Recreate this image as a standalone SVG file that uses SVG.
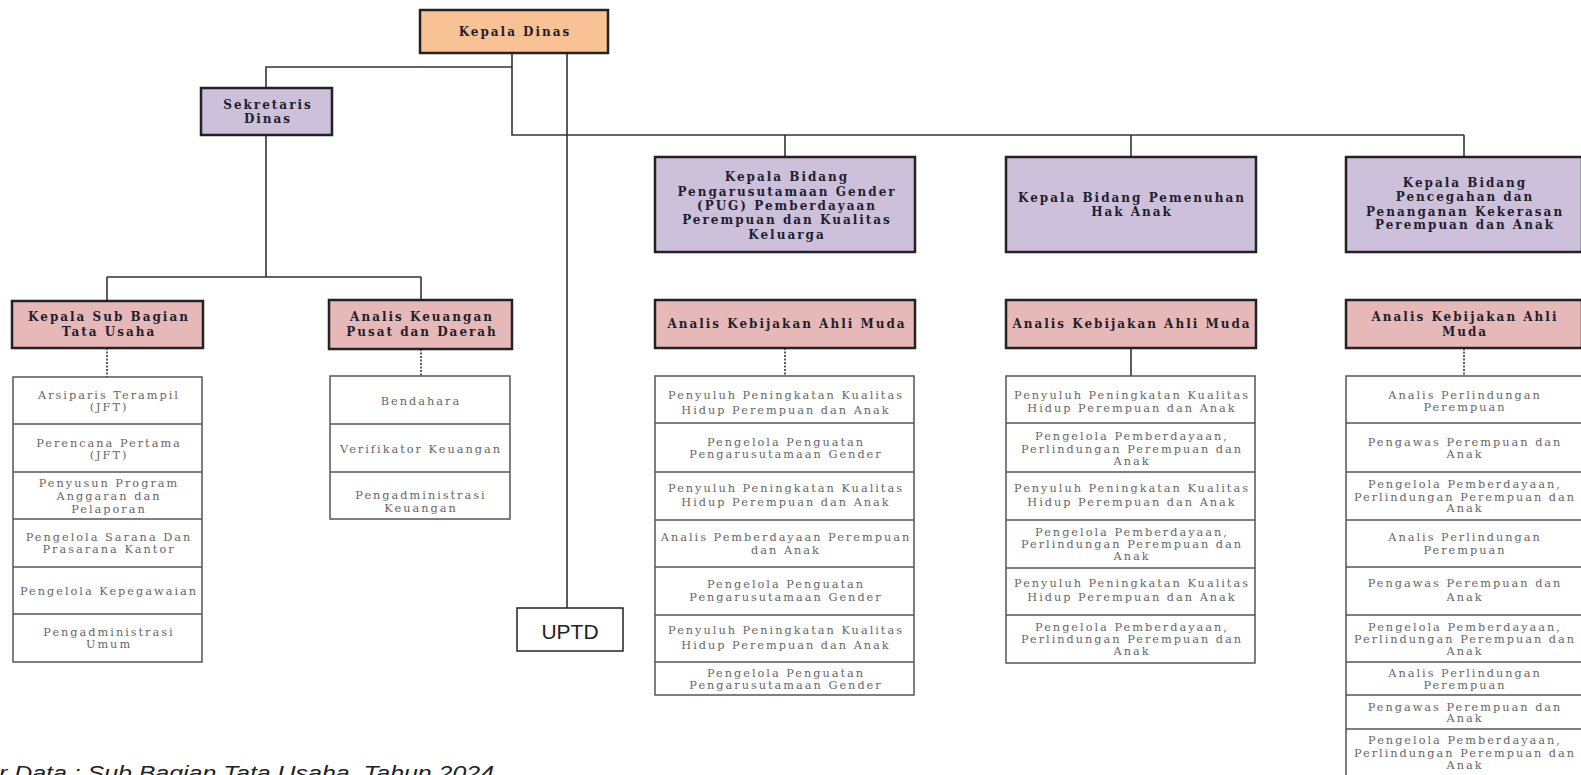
<svg xmlns="http://www.w3.org/2000/svg" width="1581" height="775" viewBox="0 0 1581 775">
<style>
.hd{stroke:#222;stroke-width:2.5}
.kd{fill:#f9c294}
.lv{fill:#ccc0da}
.pk{fill:#e6b9b8}
.bt{font-family:"DejaVu Serif",serif;font-weight:bold;font-size:12px;letter-spacing:2px;fill:#1f1f2e;text-anchor:middle}
.lt{font-family:"DejaVu Serif",serif;font-size:11.3px;letter-spacing:2px;fill:#666;text-anchor:middle}
.lb{fill:#fff;stroke:#555;stroke-width:1.5}
.sp{stroke:#555;stroke-width:1.5}
.cn{stroke:#333;stroke-width:1.6;fill:none}
.dt{stroke-dasharray:2 1.5}
.ub{fill:#fff;stroke:#222;stroke-width:1.5}
.ut{font-family:"Liberation Sans",Arial,sans-serif;font-size:21px;fill:#222;text-anchor:middle}
.src{font-family:"Liberation Sans",Arial,sans-serif;font-style:italic;font-size:20px;fill:#222}
</style>
<rect width="1581" height="775" fill="#fff"/>

<g id="connectors">
<path class="cn" d="M512 53V135H1464M785 135V157M1131 135V157M1464 135V157"/>
<path class="cn" d="M512 67H266V88"/>
<path class="cn" d="M567 53V608"/>
<path class="cn" d="M266 135V277M107 277H421M107 277V301M421 277V300"/>
<path class="cn dt" d="M107 348V377M421 349V376M785 348V376M1464 348V376"/>
<path class="cn" d="M1131 348V376"/>
</g>

<g id="kepala-dinas">
<rect class="hd kd" x="420" y="10" width="188" height="43"/>
<text class="bt" x="515" y="36">Kepala Dinas</text>
</g>

<g id="sekretaris-dinas">
<rect class="hd lv" x="201" y="88" width="131" height="47"/>
<text class="bt" x="268" y="109">Sekretaris</text>
<text class="bt" x="268" y="123">Dinas</text>
</g>

<g id="uptd">
<rect class="ub" x="517" y="608" width="106" height="43"/>
<text class="ut" x="570" y="639">UPTD</text>
</g>

<g id="kasubag-tu">
<rect class="hd pk" x="12" y="301" width="191" height="47"/>
<text class="bt" x="109" y="321">Kepala Sub Bagian</text>
<text class="bt" x="109" y="336">Tata Usaha</text>
</g>

<g id="list-tu">
<rect class="lb" x="13" y="377" width="189" height="285"/>
<path class="sp" d="M13 424H202M13 472H202M13 519H202M13 567H202M13 614H202"/>
<text class="lt" x="109" y="399">Arsiparis Terampil</text>
<text class="lt" x="109" y="411">(JFT)</text>
<text class="lt" x="109" y="447">Perencana Pertama</text>
<text class="lt" x="109" y="459">(JFT)</text>
<text class="lt" x="109" y="487">Penyusun Program</text>
<text class="lt" x="109" y="500">Anggaran dan</text>
<text class="lt" x="109" y="513">Pelaporan</text>
<text class="lt" x="109" y="541">Pengelola Sarana Dan</text>
<text class="lt" x="109" y="553">Prasarana Kantor</text>
<text class="lt" x="109" y="595">Pengelola Kepegawaian</text>
<text class="lt" x="109" y="636">Pengadministrasi</text>
<text class="lt" x="109" y="648">Umum</text>
</g>

<g id="analis-keuangan">
<rect class="hd pk" x="329" y="300" width="183" height="49"/>
<text class="bt" x="422" y="321">Analis Keuangan</text>
<text class="bt" x="422" y="336">Pusat dan Daerah</text>
</g>

<g id="list-keuangan">
<rect class="lb" x="330" y="376" width="180" height="143"/>
<path class="sp" d="M330 424H510M330 472H510"/>
<text class="lt" x="421" y="405">Bendahara</text>
<text class="lt" x="421" y="453">Verifikator Keuangan</text>
<text class="lt" x="421" y="499">Pengadministrasi</text>
<text class="lt" x="421" y="512">Keuangan</text>
</g>

<g id="kabid-pug">
<rect class="hd lv" x="655" y="157" width="260" height="95"/>
<text class="bt" x="787" y="181">Kepala Bidang</text>
<text class="bt" x="787" y="196">Pengarusutamaan Gender</text>
<text class="bt" x="787" y="210">(PUG) Pemberdayaan</text>
<text class="bt" x="787" y="224">Perempuan dan Kualitas</text>
<text class="bt" x="787" y="239">Keluarga</text>
</g>

<g id="analis-pug">
<rect class="hd pk" x="655" y="300" width="260" height="48"/>
<text class="bt" x="787" y="328">Analis Kebijakan Ahli Muda</text>
</g>

<g id="list-pug">
<rect class="lb" x="655" y="376" width="259" height="319"/>
<path class="sp" d="M655 423H914M655 472H914M655 520H914M655 567H914M655 615H914M655 662H914"/>
<text class="lt" x="786" y="399">Penyuluh Peningkatan Kualitas</text>
<text class="lt" x="786" y="414">Hidup Perempuan dan Anak</text>
<text class="lt" x="786" y="446">Pengelola Penguatan</text>
<text class="lt" x="786" y="458">Pengarusutamaan Gender</text>
<text class="lt" x="786" y="492">Penyuluh Peningkatan Kualitas</text>
<text class="lt" x="786" y="506">Hidup Perempuan dan Anak</text>
<text class="lt" x="786" y="541">Analis Pemberdayaan Perempuan</text>
<text class="lt" x="786" y="554">dan Anak</text>
<text class="lt" x="786" y="588">Pengelola Penguatan</text>
<text class="lt" x="786" y="601">Pengarusutamaan Gender</text>
<text class="lt" x="786" y="634">Penyuluh Peningkatan Kualitas</text>
<text class="lt" x="786" y="649">Hidup Perempuan dan Anak</text>
<text class="lt" x="786" y="677">Pengelola Penguatan</text>
<text class="lt" x="786" y="689">Pengarusutamaan Gender</text>
</g>

<g id="kabid-pha">
<rect class="hd lv" x="1006" y="157" width="250" height="95"/>
<text class="bt" x="1132" y="202">Kepala Bidang Pemenuhan</text>
<text class="bt" x="1132" y="216">Hak Anak</text>
</g>

<g id="analis-pha">
<rect class="hd pk" x="1006" y="300" width="250" height="48"/>
<text class="bt" x="1132" y="328">Analis Kebijakan Ahli Muda</text>
</g>

<g id="list-pha">
<rect class="lb" x="1006" y="376" width="249" height="287"/>
<path class="sp" d="M1006 423H1255M1006 472H1255M1006 520H1255M1006 568H1255M1006 615H1255"/>
<text class="lt" x="1132" y="399">Penyuluh Peningkatan Kualitas</text>
<text class="lt" x="1132" y="412">Hidup Perempuan dan Anak</text>
<text class="lt" x="1132" y="440">Pengelola Pemberdayaan,</text>
<text class="lt" x="1132" y="453">Perlindungan Perempuan dan</text>
<text class="lt" x="1132" y="465">Anak</text>
<text class="lt" x="1132" y="492">Penyuluh Peningkatan Kualitas</text>
<text class="lt" x="1132" y="506">Hidup Perempuan dan Anak</text>
<text class="lt" x="1132" y="536">Pengelola Pemberdayaan,</text>
<text class="lt" x="1132" y="548">Perlindungan Perempuan dan</text>
<text class="lt" x="1132" y="560">Anak</text>
<text class="lt" x="1132" y="587">Penyuluh Peningkatan Kualitas</text>
<text class="lt" x="1132" y="601">Hidup Perempuan dan Anak</text>
<text class="lt" x="1132" y="631">Pengelola Pemberdayaan,</text>
<text class="lt" x="1132" y="643">Perlindungan Perempuan dan</text>
<text class="lt" x="1132" y="655">Anak</text>
</g>

<g id="kabid-ppkpa">
<rect class="hd lv" x="1346" y="157" width="236" height="95"/>
<text class="bt" x="1465" y="187">Kepala Bidang</text>
<text class="bt" x="1465" y="201">Pencegahan dan</text>
<text class="bt" x="1465" y="216">Penanganan Kekerasan</text>
<text class="bt" x="1465" y="229">Perempuan dan Anak</text>
</g>

<g id="analis-ppkpa">
<rect class="hd pk" x="1346" y="300" width="236" height="48"/>
<text class="bt" x="1465" y="321">Analis Kebijakan Ahli</text>
<text class="bt" x="1465" y="336">Muda</text>
</g>

<g id="list-ppkpa">
<rect class="lb" x="1346" y="376" width="240" height="410"/>
<path class="sp" d="M1346 423H1581M1346 472H1581M1346 520H1581M1346 567H1581M1346 615H1581M1346 662H1581M1346 695H1581M1346 729H1581"/>
<text class="lt" x="1465" y="399">Analis Perlindungan</text>
<text class="lt" x="1465" y="411">Perempuan</text>
<text class="lt" x="1465" y="446">Pengawas Perempuan dan</text>
<text class="lt" x="1465" y="458">Anak</text>
<text class="lt" x="1465" y="488">Pengelola Pemberdayaan,</text>
<text class="lt" x="1465" y="501">Perlindungan Perempuan dan</text>
<text class="lt" x="1465" y="512">Anak</text>
<text class="lt" x="1465" y="541">Analis Perlindungan</text>
<text class="lt" x="1465" y="554">Perempuan</text>
<text class="lt" x="1465" y="587">Pengawas Perempuan dan</text>
<text class="lt" x="1465" y="601">Anak</text>
<text class="lt" x="1465" y="631">Pengelola Pemberdayaan,</text>
<text class="lt" x="1465" y="643">Perlindungan Perempuan dan</text>
<text class="lt" x="1465" y="655">Anak</text>
<text class="lt" x="1465" y="677">Analis Perlindungan</text>
<text class="lt" x="1465" y="689">Perempuan</text>
<text class="lt" x="1465" y="711">Pengawas Perempuan dan</text>
<text class="lt" x="1465" y="722">Anak</text>
<text class="lt" x="1465" y="744">Pengelola Pemberdayaan,</text>
<text class="lt" x="1465" y="757">Perlindungan Perempuan dan</text>
<text class="lt" x="1465" y="769">Anak</text>
</g>

<text class="src" x="-1" y="780" textLength="495" lengthAdjust="spacingAndGlyphs">r Data : Sub Bagian Tata Usaha, Tahun 2024</text>
</svg>
